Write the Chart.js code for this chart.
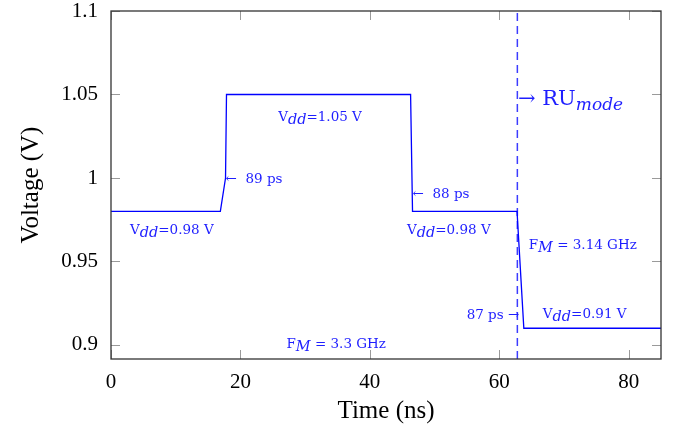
<!DOCTYPE html>
<html>
<head>
<meta charset="utf-8">
<script src="https://cdn.jsdelivr.net/npm/chart.js@4.4.0/dist/chart.umd.min.js"></script>
<style>
  body { margin: 0; background: #fff; }
</style>
</head>
<body>
<canvas id="chart" width="677" height="430"></canvas>
<script>
// supply voltage trace (time in ns, voltage in V)
var timeNs = [0, 16.9, 17.7, 17.85, 46.3, 46.6, 62.75, 63.8, 85];
var voltageV = [0.98, 0.98, 1.0, 1.05, 1.05, 0.98, 0.98, 0.91, 0.91];
var ruModeTime = 62.8;

var xTicks = [0, 20, 40, 60, 80];
var yTicks = [0.9, 0.95, 1, 1.05, 1.1];
var xMin = 0, xMax = 85;
var yMin = 0.8916, yMax = 1.1;

// annotation texts: [text, kind]  kind: undefined = roman, 'sub' = italic subscript
var notes = [
    { x: 32.3, y: 1.037, align: 'center', parts: [['V'], ['dd', 'sub'], ['=1.05 V']] },
    { x: 17.7, y: 1.0, align: 'left', parts: [['\u2190  89 ps']] },
    { x: 9.4, y: 0.9695, align: 'center', parts: [['V'], ['dd', 'sub'], ['=0.98 V']] },
    { x: 46.6, y: 0.991, align: 'left', parts: [['\u2190  88 ps']] },
    { x: 52.2, y: 0.9695, align: 'center', parts: [['V'], ['dd', 'sub'], ['=0.98 V']] },
    { x: 72.9, y: 0.9605, align: 'center', parts: [['F'], ['M', 'sub'], [' = 3.14 GHz']] },
    { x: 63.1, y: 0.9186, align: 'right', parts: [['87 ps \u2192']] },
    { x: 73.2, y: 0.919, align: 'center', parts: [['V'], ['dd', 'sub'], ['=0.91 V']] },
    { x: 34.8, y: 0.9012, align: 'center', parts: [['F'], ['M', 'sub'], [' = 3.3 GHz']] },
    { x: 62.9, y: 1.0485, align: 'left', size: 21, parts: [['\u2192 RU'], ['mode', 'sub']] }
];

var blue = '#0000ff';
var textBlue = '#1e1eff';

var drawRich = function(ctx, note, px, py) {
    var size = note.size || 13.5;
    var subSize = note.size ? 17 : 14.5;
    var fonts = note.parts.map(function(p) {
        return p[1] === 'sub' ? 'italic ' + subSize + 'px "DejaVu Serif"' : size + 'px "DejaVu Serif"';
    });
    var widths = note.parts.map(function(p, i) {
        ctx.font = fonts[i];
        return ctx.measureText(p[0]).width;
    });
    var total = widths.reduce(function(a, b) { return a + b; }, 0);
    var x = px;
    if (note.align === 'center') x = px - total / 2;
    if (note.align === 'right') x = px - total;
    var base = py + size * 0.36;
    ctx.fillStyle = textBlue;
    ctx.textAlign = 'left';
    ctx.textBaseline = 'alphabetic';
    note.parts.forEach(function(p, i) {
        ctx.font = fonts[i];
        ctx.fillText(p[0], x, p[1] === 'sub' ? base + size * 0.25 : base);
        x += widths[i];
    });
};

var framePlugin = {
    id: 'frame',
    afterDatasetsDraw: function(chart) {
        var ctx = chart.ctx;
        var a = chart.chartArea;
        var xs = chart.scales.x, ys = chart.scales.y;
        var tick = 9;
        ctx.save();
        ctx.strokeStyle = '#9a9a9a';
        ctx.lineWidth = 1;
        ctx.beginPath();
        xTicks.forEach(function(v) {
            var px = Math.round(xs.getPixelForValue(v)) + 0.5;
            ctx.moveTo(px, a.bottom); ctx.lineTo(px, a.bottom - tick);
            ctx.moveTo(px, a.top); ctx.lineTo(px, a.top + tick);
        });
        yTicks.forEach(function(v) {
            var py = Math.round(ys.getPixelForValue(v)) + 0.5;
            ctx.moveTo(a.left, py); ctx.lineTo(a.left + tick, py);
            ctx.moveTo(a.right, py); ctx.lineTo(a.right - tick, py);
        });
        ctx.stroke();
        ctx.strokeStyle = '#333';
        ctx.lineWidth = 1.3;
        ctx.strokeRect(a.left, a.top, a.right - a.left, a.bottom - a.top);
        notes.forEach(function(n) {
            drawRich(ctx, n, xs.getPixelForValue(n.x), ys.getPixelForValue(n.y));
        });
        ctx.restore();
    }
};

var points = timeNs.map(function(t, i) { return { x: t, y: voltageV[i] }; });

var ctx = document.getElementById('chart').getContext('2d');
new Chart(ctx, {
    type: 'line',
    data: {
        datasets: [{
            data: points,
            borderColor: blue,
            borderWidth: 1.3,
            pointRadius: 0,
            tension: 0
        }, {
            data: [{ x: ruModeTime, y: yMin }, { x: ruModeTime, y: yMax }],
            borderColor: '#3c3cff',
            borderWidth: 1.5,
            borderDash: [8, 5],
            pointRadius: 0
        }]
    },
    options: {
        responsive: false,
        animation: false,
        devicePixelRatio: 1,
        layout: { padding: { left: 8, right: 16, top: 11, bottom: 0 } },
        plugins: { legend: { display: false }, tooltip: { enabled: false } },
        scales: {
            x: {
                type: 'linear',
                min: xMin,
                max: xMax,
                afterBuildTicks: function(s) { s.ticks = xTicks.map(function(v) { return { value: v }; }); },
                afterFit: function(s) { s.height = 71; s.paddingLeft = 0; s.paddingRight = 0; },
                grid: { display: false },
                border: { display: false },
                ticks: { color: '#000', font: { family: 'Liberation Serif', size: 21 }, padding: 3, maxRotation: 0 },
                title: { display: true, text: 'Time (ns)', color: '#000', font: { family: 'Liberation Serif', size: 25 }, padding: { top: 0, bottom: 4 } }
            },
            y: {
                type: 'linear',
                min: yMin,
                max: yMax,
                afterBuildTicks: function(s) { s.ticks = yTicks.map(function(v) { return { value: v }; }); },
                afterFit: function(s) { s.width = 103; s.paddingTop = 0; s.paddingBottom = 0; },
                grid: { display: false },
                border: { display: false },
                ticks: { color: '#000', font: { family: 'Liberation Serif', size: 21 }, padding: 5,
                         callback: function(v) { return String(v); } },
                title: { display: true, text: 'Voltage (V)', color: '#000', font: { family: 'Liberation Serif', size: 25 }, padding: 8 }
            }
        }
    },
    plugins: [framePlugin]
});
</script>
</body>
</html>
